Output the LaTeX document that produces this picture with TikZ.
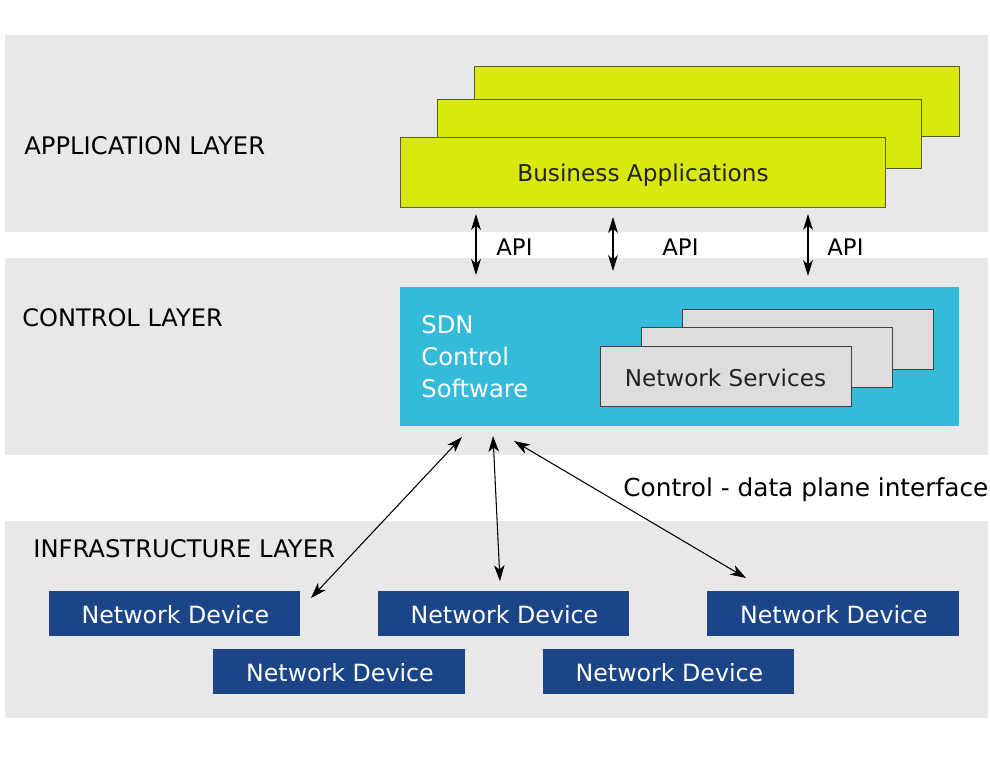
\documentclass[tikz,border=0pt]{standalone}
\usepackage{fontspec}
\setmainfont{DejaVu Sans}
\usetikzlibrary{arrows.meta}
\definecolor{layergray}{HTML}{E8E8E8}
\definecolor{appgreen}{HTML}{D9E90B}
\definecolor{appborder}{HTML}{5A5A2A}
\definecolor{sdnblue}{HTML}{33BBD9}
\definecolor{svcgray}{HTML}{DDDDDD}
\definecolor{devblue}{HTML}{1B4586}
\definecolor{txtdark}{HTML}{222222}
\newcommand{\fsz}[1]{\fontsize{#1}{#1}\selectfont}
\begin{document}
\begin{tikzpicture}[x=0.02cm,y=-0.02cm,
  layer/.style={fill=layergray,draw=none},
  appbox/.style={fill=appgreen,draw=appborder,line width=0.5pt},
  svcbox/.style={fill=svcgray,draw=black!75,line width=0.5pt},
  devbox/.style={fill=devblue,draw=none},
  lbl/.style={font=\fsz{13}, text=black,inner sep=0pt},
  dev/.style={font=\fsz{13.5},text=white,inner sep=0pt},
  arr/.style={{Stealth[length=9pt,width=6pt,inset=2.5pt]}-{Stealth[length=9pt,width=6pt,inset=2.5pt]},line width=0.6pt},
  apiarr/.style={{Stealth[length=9pt,width=5.5pt,inset=2.5pt]}-{Stealth[length=9pt,width=5.5pt,inset=2.5pt]},line width=0.6pt}]
\useasboundingbox (0,0) rectangle (990,765);
\fill[white] (0,0) rectangle (990,765);
% layers
\fill[layer] (5,35) rectangle (988,232);
\fill[layer] (5,258) rectangle (988,455);
\fill[layer] (5,521) rectangle (988,718);
\node[lbl,anchor=west,font=\fsz{13.8}] (applbl) at (24,145.5) {APPLICATION LAYER};
\node[lbl,anchor=west,font=\fsz{13.7}] (ctllbl) at (22,317.5) {CONTROL LAYER};
\node[lbl,anchor=west,font=\fsz{13.8}] (inflbl) at (33,548.5) {INFRASTRUCTURE LAYER};
% business apps
\draw[appbox] (474,66) rectangle (959,136);
\draw[appbox] (437,99) rectangle (921,168);
\draw[appbox] (400,137) rectangle (885,207);
\node[lbl,text=txtdark,font=\fsz{13.2}] (biz) at (643,175.5) {Business Applications};
% SDN
\fill[sdnblue] (400,287) rectangle (959,426);
\node[lbl,text=white,anchor=north west,align=left,font=\fontsize{13.8}{18.2}\selectfont] (sdn) at (421,315) {SDN\\Control\\Software};
\draw[svcbox] (682,309) rectangle (933,369);
\draw[svcbox] (641,327) rectangle (892,387);
\draw[svcbox] (600,346) rectangle (851,406);
\node[lbl,text=txtdark,font=\fsz{13.15}] (svc) at (725.5,377.5) {Network Services};
% API arrows
\coordinate (a1t) at (476,214); \coordinate (a1b) at (476,275);
\coordinate (a2t) at (613,217); \coordinate (a2b) at (613,271);
\coordinate (a3t) at (808,214); \coordinate (a3b) at (808,276);
\draw[apiarr] (a1t) -- (a1b);
\draw[apiarr] (a2t) -- (a2b);
\draw[apiarr] (a3t) -- (a3b);
\node[lbl,anchor=west] (api1) at (496,247) {API};
\node[lbl,anchor=west] (api2) at (662,247) {API};
\node[lbl,anchor=west] (api3) at (827,247) {API};
% devices
\fill[devbox] (49,591) rectangle (300,636);
\fill[devbox] (378,591) rectangle (629,636);
\fill[devbox] (707,591) rectangle (959,636);
\fill[devbox] (213,649) rectangle (465,694);
\fill[devbox] (543,649) rectangle (794,694);
\node[dev] (d1) at (175.5,615) {Network Device};
\node[dev] (d2) at (504.5,615) {Network Device};
\node[dev] (d3) at (834,615) {Network Device};
\node[dev] (d4) at (340,673) {Network Device};
\node[dev] (d5) at (669.5,673) {Network Device};
% control-data arrows
\coordinate (c1t) at (462,437); \coordinate (c1b) at (311,598);
\coordinate (c2t) at (493,436); \coordinate (c2b) at (500,581);
\coordinate (c3t) at (514,441); \coordinate (c3b) at (746,578);
\draw[arr] (c1t) -- (c1b);
\draw[arr] (c2t) -- (c2b);
\draw[arr] (c3t) -- (c3b);
\node[lbl,anchor=west,font=\fsz{14.1}] (cdp) at (623,489.5) {Control - data plane interface};
\end{tikzpicture}
\end{document}
